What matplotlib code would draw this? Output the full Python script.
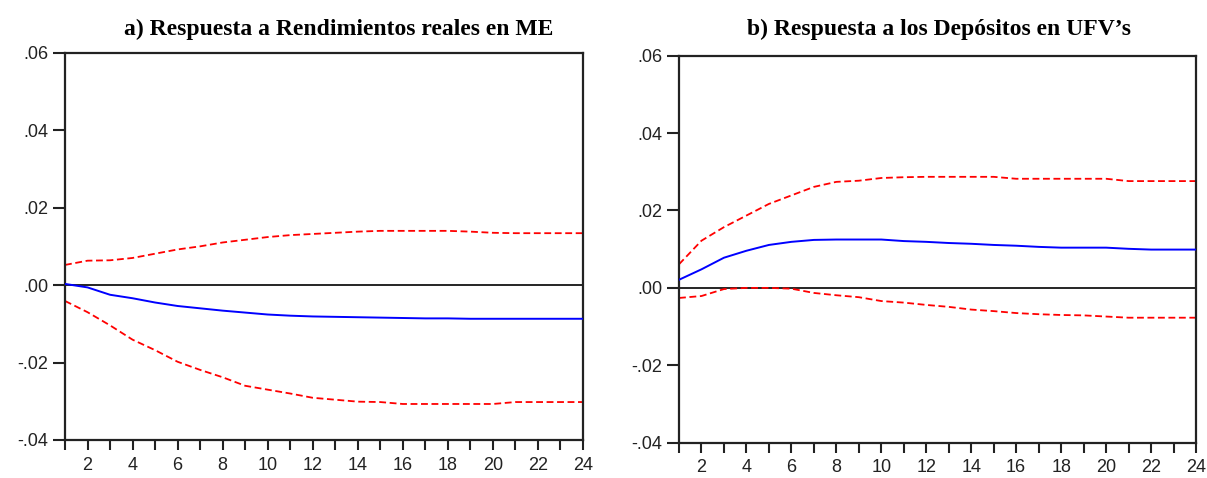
import matplotlib
matplotlib.use('Agg')
import matplotlib.pyplot as plt

periods = list(range(1, 25))
xtick_labels = [str(p) if p % 2 == 0 else '' for p in periods]
ytick_values = [0.06, 0.04, 0.02, 0.00, -0.02, -0.04]
ytick_labels = ['.06', '.04', '.02', '.00', '-.02', '-.04']

title_a = 'a) Respuesta a Rendimientos reales en ME'
title_b = 'b) Respuesta a los Depósitos en UFV\u2019s'

# panel a
resp_a = [0.0003, -0.0006, -0.0025, -0.0034, -0.0045, -0.0054, -0.0060, -0.0066,
          -0.0071, -0.0076, -0.0079, -0.0081, -0.0082, -0.0083, -0.0084, -0.0085,
          -0.0086, -0.0086, -0.0087, -0.0087, -0.0087, -0.0087, -0.0087, -0.0087]
upper_a = [0.0052, 0.0063, 0.0064, 0.0070, 0.0081, 0.0092, 0.0100, 0.0110,
           0.0117, 0.0124, 0.0129, 0.0132, 0.0135, 0.0138, 0.0140, 0.0140,
           0.0140, 0.0140, 0.0138, 0.0135, 0.0134, 0.0134, 0.0134, 0.0134]
lower_a = [-0.0041, -0.0070, -0.0104, -0.0141, -0.0168, -0.0198, -0.0219, -0.0238,
           -0.0260, -0.0270, -0.0280, -0.0291, -0.0296, -0.0301, -0.0302, -0.0307,
           -0.0307, -0.0307, -0.0307, -0.0307, -0.0302, -0.0302, -0.0302, -0.0302]

# panel b
resp_b = [0.0021, 0.0048, 0.0078, 0.0096, 0.0111, 0.0119, 0.0124, 0.0125,
          0.0125, 0.0125, 0.0121, 0.0119, 0.0116, 0.0114, 0.0111, 0.0109,
          0.0106, 0.0104, 0.0104, 0.0104, 0.0101, 0.0099, 0.0099, 0.0099]
upper_b = [0.0061, 0.0122, 0.0157, 0.0187, 0.0217, 0.0239, 0.0261, 0.0274,
           0.0277, 0.0284, 0.0286, 0.0287, 0.0287, 0.0287, 0.0287, 0.0282,
           0.0282, 0.0282, 0.0282, 0.0282, 0.0276, 0.0276, 0.0276, 0.0276]
lower_b = [-0.0026, -0.0021, -0.0003, 0.0000, 0.0000, -0.0002, -0.0013, -0.0019,
           -0.0024, -0.0034, -0.0038, -0.0044, -0.0049, -0.0056, -0.0060, -0.0065,
           -0.0068, -0.0070, -0.0071, -0.0074, -0.0077, -0.0077, -0.0077, -0.0077]

W, H = 1207, 478
fig = plt.figure(figsize=(W / 100, H / 100), dpi=100)
fig.patch.set_facecolor('white')


def panel(rect, resp, upper, lower):
    l, t, r, b = rect
    ax = fig.add_axes([l / W, 1 - b / H, (r - l) / W, (b - t) / H])
    ax.axhline(0, color='black', lw=1.2, zorder=1)
    ax.plot(periods, upper, color='#ff0000', lw=1.3, ls=(0, (3.8, 2.0)), zorder=2)
    ax.plot(periods, lower, color='#ff0000', lw=1.3, ls=(0, (3.8, 2.0)), zorder=2)
    ax.plot(periods, resp, color='#0000ff', lw=1.4, zorder=3)
    ax.set_xlim(1, 24)
    ax.set_ylim(-0.04, 0.06)
    ax.set_xticks(periods)
    ax.set_xticklabels(xtick_labels)
    ax.set_yticks(ytick_values)
    ax.set_yticklabels(ytick_labels)
    for s in ax.spines.values():
        s.set_color('#222222')
        s.set_linewidth(1.6)
    ax.tick_params(axis='y', direction='out', length=8.5, width=1.5, pad=3.5,
                   labelsize=13, colors='#222222')
    ax.tick_params(axis='x', direction='out', length=7, width=1.5, pad=5,
                   labelsize=13, colors='#222222')
    for lab in ax.get_xticklabels() + ax.get_yticklabels():
        lab.set_family('Liberation Sans')
    return ax


panel((65, 52.7, 583, 440), resp_a, upper_a, lower_a)
panel((679, 55.7, 1196, 442.7), resp_b, upper_b, lower_b)

fig.text(338.5 / W, 1 - 35 / H, title_a, ha='center', va='baseline',
         family='Liberation Serif', weight='bold', fontsize=17)
fig.text(939 / W, 1 - 35 / H, title_b, ha='center', va='baseline',
         family='Liberation Serif', weight='bold', fontsize=17)

fig.savefig('out.png', dpi=100)
